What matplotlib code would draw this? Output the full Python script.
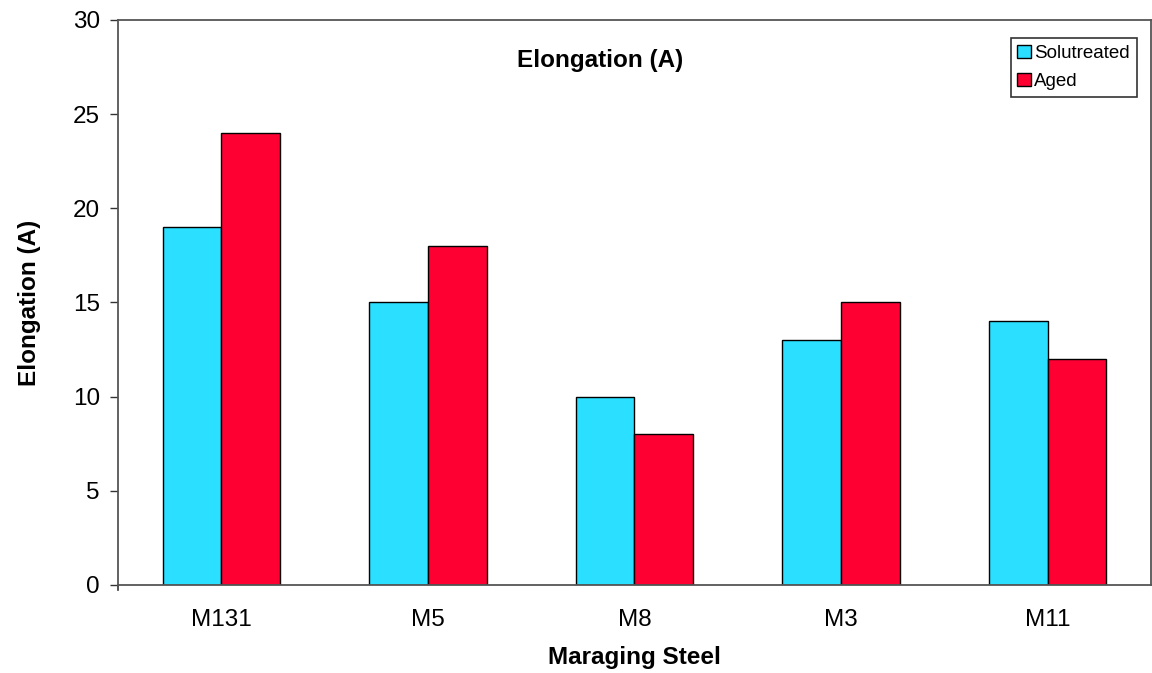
import matplotlib.pyplot as plt
import numpy as np

plt.rcParams['font.family'] = ['Liberation Sans', 'DejaVu Sans']

steels = ["M131", "M5", "M8", "M3", "M11"]
solutreated = [19, 15, 10, 13, 14]
aged = [24, 18, 8, 15, 12]

fig = plt.figure(figsize=(11.52, 6.73), dpi=100)
ax = fig.add_axes([0.1024, 0.1308, 0.8967, 0.8395])

x = np.arange(len(steels))
w = 0.284
ax.bar(x - w / 2, solutreated, w, color='#2ADFFF', edgecolor='black', linewidth=1, label='Solutreated')
ax.bar(x + w / 2, aged, w, color='#FF0033', edgecolor='black', linewidth=1, label='Aged')

ax.set_xlim(-0.5, len(steels) - 0.5)
ax.set_ylim(0, 30)
ax.set_yticks(range(0, 31, 5))
ax.set_xticks(x)
ax.set_xticklabels(steels)
ax.tick_params(axis='x', length=0, pad=17, labelsize=17.5)
ax.tick_params(axis='y', length=6, width=1, color='#333333', pad=7, labelsize=17.5)

for side in ['left', 'top', 'right', 'bottom']:
    ax.spines[side].set_color('#555555')
    ax.spines[side].set_linewidth(1.3)

# small tick below the origin
ax.plot([-0.5, -0.5], [0, -0.25], color='#333333', lw=1.2, clip_on=False)

ax.set_xlabel("Maraging Steel", fontsize=17.5, fontweight='bold', labelpad=11)
ax.set_ylabel("Elongation (A)", fontsize=17.5, fontweight='bold', labelpad=23)
ax.text(0.467, 0.929, "Elongation (A)", transform=ax.transAxes, ha='center', va='center',
        fontsize=17.5, fontweight='bold')

leg = ax.legend(loc='upper right', bbox_to_anchor=(0.986, 0.968), fontsize=13.5,
                fancybox=False, edgecolor='black', handlelength=0.7, handleheight=0.7,
                handletextpad=0.2, borderpad=0.35, labelspacing=0.6, borderaxespad=0)
leg.get_frame().set_linewidth(1.2)

fig.savefig("out.png", dpi=100)
